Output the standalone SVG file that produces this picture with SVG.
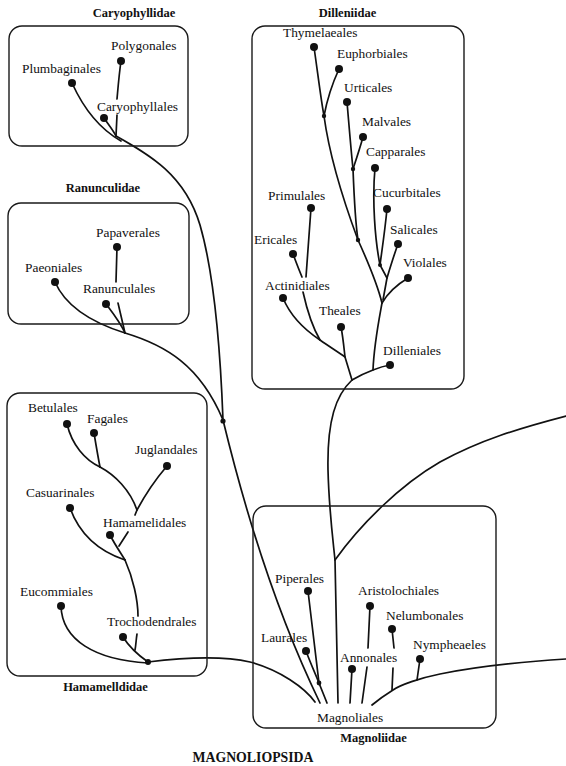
<svg xmlns="http://www.w3.org/2000/svg" width="566" height="766" viewBox="0 0 566 766">
<style>
.box{fill:none;stroke:#1a1a1a;stroke-width:1.4}
.ln{fill:none;stroke:#111;stroke-width:1.7;stroke-linecap:round}
.dot{fill:#111}
.jn{fill:#111}
.lbl{font-family:"Liberation Serif","Times New Roman",serif;font-size:13.4px;fill:#111}
.hd{font-family:"Liberation Serif","Times New Roman",serif;font-size:12.5px;font-weight:bold;fill:#111;text-anchor:middle}
.title{font-family:"Liberation Serif","Times New Roman",serif;font-size:13.8px;font-weight:bold;fill:#111;text-anchor:middle}
</style>
<rect width="566" height="766" fill="#fff"/>

<g id="connectors">
  <!-- Caryophyllidae -->
  <path class="ln" d="M121,61 C119,75 118,88 117,99"/>
  <path class="ln" d="M117,115 L116,136"/>
  <path class="ln" d="M104,118 C108,124 113,130 116,136"/>
  <path class="ln" d="M72,83 C82,105 98,128 121,141"/>
  <path class="ln" d="M116,136 C150,155 185,175 200,225 C213,270 220,340 223,420 C240,490 270,600 320,703"/>
  <!-- Ranunculidae -->
  <path class="ln" d="M117,247 L116,282"/>
  <path class="ln" d="M118,303 L125,333"/>
  <path class="ln" d="M106,304 C112,312 120,322 125,333"/>
  <path class="ln" d="M55,282 C65,305 90,322 125,333 C165,345 200,365 223,420"/>
  <!-- Hamamelididae -->
  <path class="ln" d="M67,424 C72,445 85,460 100,467"/>
  <path class="ln" d="M94,433 C96,445 98,457 100,467"/>
  <path class="ln" d="M100,467 C115,475 130,490 137,510 L135,515"/>
  <path class="ln" d="M167,466 C155,480 145,495 137,510"/>
  <path class="ln" d="M128,532 L119,546"/>
  <path class="ln" d="M110,535 C114,543 120,552 125,560"/>
  <path class="ln" d="M70,508 C78,530 95,550 125,560"/>
  <path class="ln" d="M125,560 C133,578 138,600 138,616"/>
  <path class="ln" d="M137,634 C136,640 136,645 135,650"/>
  <path class="ln" d="M123,637 C128,645 138,655 148,662"/>
  <path class="ln" d="M61,606 C62,640 95,660 148,663"/>
  <path class="ln" d="M148,662 C180,658 220,655 250,662 C280,670 305,688 315,702"/>
  <!-- Dilleniidae -->
  <path class="ln" d="M314,47 C318,75 321,100 324,116 C330,160 345,205 358,240 C368,262 377,283 382,303"/>
  <path class="ln" d="M339,69 C333,82 327,100 324,116"/>
  <path class="ln" d="M347,102 C349,125 351,150 353,169 C354,195 355,220 358,240"/>
  <path class="ln" d="M363,137 C360,148 356,160 353,169"/>
  <path class="ln" d="M375,168 C372,200 375,240 380,265 L387,278"/>
  <path class="ln" d="M387,209 C385,230 382,250 380,265"/>
  <path class="ln" d="M398,244 C394,255 390,268 387,278 L383,300"/>
  <path class="ln" d="M408,278 C398,284 389,291 382,303"/>
  <path class="ln" d="M382,303 C378,325 374,345 373,370"/>
  <path class="ln" d="M390,365 C384,366 378,368 373,370 C365,373 357,377 352,380"/>
  <path class="ln" d="M352,380 C336,395 327,420 328,470 C329,510 333,540 335,560 L338,703"/>
  <path class="ln" d="M341,327 C343,337 344,348 345,357"/>
  <path class="ln" d="M283,298 C290,315 305,330 320,340 C330,347 338,352 345,357 L352,380"/>
  <path class="ln" d="M311,208 L306,277"/>
  <path class="ln" d="M293,254 C296,262 299,270 302,277"/>
  <path class="ln" d="M303,292 C307,310 313,328 320,340"/>
  <!-- Magnoliidae -->
  <path class="ln" d="M335,560 C360,525 400,485 440,462 C480,440 520,428 566,416"/>
  <path class="ln" d="M308,591 L319,683 L327,703"/>
  <path class="ln" d="M306,651 C310,662 315,673 319,683"/>
  <path class="ln" d="M370,606 L368,648"/>
  <path class="ln" d="M367,667 L362,703"/>
  <path class="ln" d="M352,669 L350,703"/>
  <path class="ln" d="M392,629 L394,648"/>
  <path class="ln" d="M393,668 L392,690"/>
  <path class="ln" d="M420,659 C419,666 418,673 417,680"/>
  <path class="ln" d="M566,659 C520,662 470,668 440,674 C420,678 400,685 393,690 C385,695 378,700 372,705"/>
  <!-- junction marks -->
  <circle class="jn" cx="223" cy="421" r="2.6"/>
  <circle class="jn" cx="148" cy="662" r="3"/>
  <circle class="jn" cx="324" cy="116" r="2.2"/>
  <circle class="jn" cx="353" cy="169" r="2.2"/>
  <circle class="jn" cx="358" cy="240" r="2.2"/>
  <circle class="jn" cx="380" cy="265" r="2"/>
  <circle class="jn" cx="319" cy="683" r="2.4"/>
</g>

<g id="caryophyllidae">
  <rect class="box" x="9" y="26" width="179" height="120" rx="13"/>
  <text class="hd" x="134" y="17">Caryophyllidae</text>
  <g id="polygonales"><circle class="dot" cx="121" cy="61" r="4"/><text class="lbl" x="111" y="50">Polygonales</text></g>
  <g id="plumbaginales"><circle class="dot" cx="72" cy="83" r="4"/><text class="lbl" x="22" y="73">Plumbaginales</text></g>
  <g id="caryophyllales"><circle class="dot" cx="104" cy="118" r="4"/><text class="lbl" x="97" y="111">Caryophyllales</text></g>
</g>

<g id="ranunculidae">
  <rect class="box" x="8" y="203" width="181" height="121" rx="13"/>
  <text class="hd" x="103" y="192">Ranunculidae</text>
  <g id="papaverales"><circle class="dot" cx="117" cy="247" r="4"/><text class="lbl" x="96" y="237">Papaverales</text></g>
  <g id="paeoniales"><circle class="dot" cx="55" cy="282" r="4"/><text class="lbl" x="25" y="272">Paeoniales</text></g>
  <g id="ranunculales"><circle class="dot" cx="106" cy="304" r="4"/><text class="lbl" x="83" y="293">Ranunculales</text></g>
</g>

<g id="hamamelididae">
  <rect class="box" x="7" y="393" width="200" height="283" rx="13"/>
  <text class="hd" x="105.5" y="691">Hamamelldidae</text>
  <g id="betulales"><circle class="dot" cx="67" cy="424" r="4"/><text class="lbl" x="28" y="412">Betulales</text></g>
  <g id="fagales"><circle class="dot" cx="94" cy="433" r="4"/><text class="lbl" x="87" y="423">Fagales</text></g>
  <g id="juglandales"><circle class="dot" cx="167" cy="466" r="4"/><text class="lbl" x="135" y="454">Juglandales</text></g>
  <g id="casuarinales"><circle class="dot" cx="70" cy="508" r="4"/><text class="lbl" x="26" y="497">Casuarinales</text></g>
  <g id="hamamelidales"><circle class="dot" cx="110" cy="535" r="4"/><text class="lbl" x="103" y="527">Hamamelidales</text></g>
  <g id="eucommiales"><circle class="dot" cx="61" cy="606" r="4"/><text class="lbl" x="20" y="596">Eucommiales</text></g>
  <g id="trochodendrales"><circle class="dot" cx="123" cy="637" r="4"/><text class="lbl" x="107" y="626">Trochodendrales</text></g>
</g>

<g id="dilleniidae">
  <rect class="box" x="252" y="26" width="212" height="363" rx="13"/>
  <text class="hd" x="347.5" y="17">Dilleniidae</text>
  <g id="thymelaeales"><circle class="dot" cx="314" cy="47" r="4"/><text class="lbl" x="283" y="37">Thymelaeales</text></g>
  <g id="euphorbiales"><circle class="dot" cx="339" cy="69" r="4"/><text class="lbl" x="337" y="58">Euphorbiales</text></g>
  <g id="urticales"><circle class="dot" cx="347" cy="102" r="4"/><text class="lbl" x="344" y="92">Urticales</text></g>
  <g id="malvales"><circle class="dot" cx="363" cy="137" r="4"/><text class="lbl" x="362" y="126">Malvales</text></g>
  <g id="capparales"><circle class="dot" cx="375" cy="168" r="4"/><text class="lbl" x="366" y="156">Capparales</text></g>
  <g id="cucurbitales"><circle class="dot" cx="387" cy="209" r="4"/><text class="lbl" x="373" y="197">Cucurbitales</text></g>
  <g id="primulales"><circle class="dot" cx="311" cy="208" r="4"/><text class="lbl" x="268" y="200">Primulales</text></g>
  <g id="ericales"><circle class="dot" cx="293" cy="254" r="4"/><text class="lbl" x="254" y="244">Ericales</text></g>
  <g id="salicales"><circle class="dot" cx="398" cy="244" r="4"/><text class="lbl" x="390" y="234">Salicales</text></g>
  <g id="violales"><circle class="dot" cx="408" cy="278" r="4"/><text class="lbl" x="403" y="267">Violales</text></g>
  <g id="actinidiales"><circle class="dot" cx="283" cy="298" r="4"/><text class="lbl" x="265" y="290">Actinidiales</text></g>
  <g id="theales"><circle class="dot" cx="341" cy="327" r="4"/><text class="lbl" x="319" y="315">Theales</text></g>
  <g id="dilleniales"><circle class="dot" cx="390" cy="365" r="4"/><text class="lbl" x="383" y="355">Dilleniales</text></g>
</g>

<g id="magnoliidae">
  <rect class="box" x="253" y="506" width="243" height="222" rx="13"/>
  <text class="hd" x="373.5" y="742">Magnoliidae</text>
  <g id="piperales"><circle class="dot" cx="308" cy="591" r="4"/><text class="lbl" x="275" y="583">Piperales</text></g>
  <g id="laurales"><circle class="dot" cx="306" cy="651" r="4"/><text class="lbl" x="261" y="642">Laurales</text></g>
  <g id="aristolochiales"><circle class="dot" cx="370" cy="606" r="4"/><text class="lbl" x="358" y="595">Aristolochiales</text></g>
  <g id="nelumbonales"><circle class="dot" cx="392" cy="629" r="4"/><text class="lbl" x="386" y="620">Nelumbonales</text></g>
  <g id="nympheaeles"><circle class="dot" cx="420" cy="659" r="4"/><text class="lbl" x="413" y="649">Nympheaeles</text></g>
  <g id="annonales"><circle class="dot" cx="352" cy="669" r="4"/><text class="lbl" x="340" y="662">Annonales</text></g>
  <g id="magnoliales"><text class="lbl" x="317" y="722">Magnoliales</text></g>
</g>

<g id="magnoliopsida">
  <text class="title" x="253" y="762">MAGNOLIOPSIDA</text>
</g>
</svg>
